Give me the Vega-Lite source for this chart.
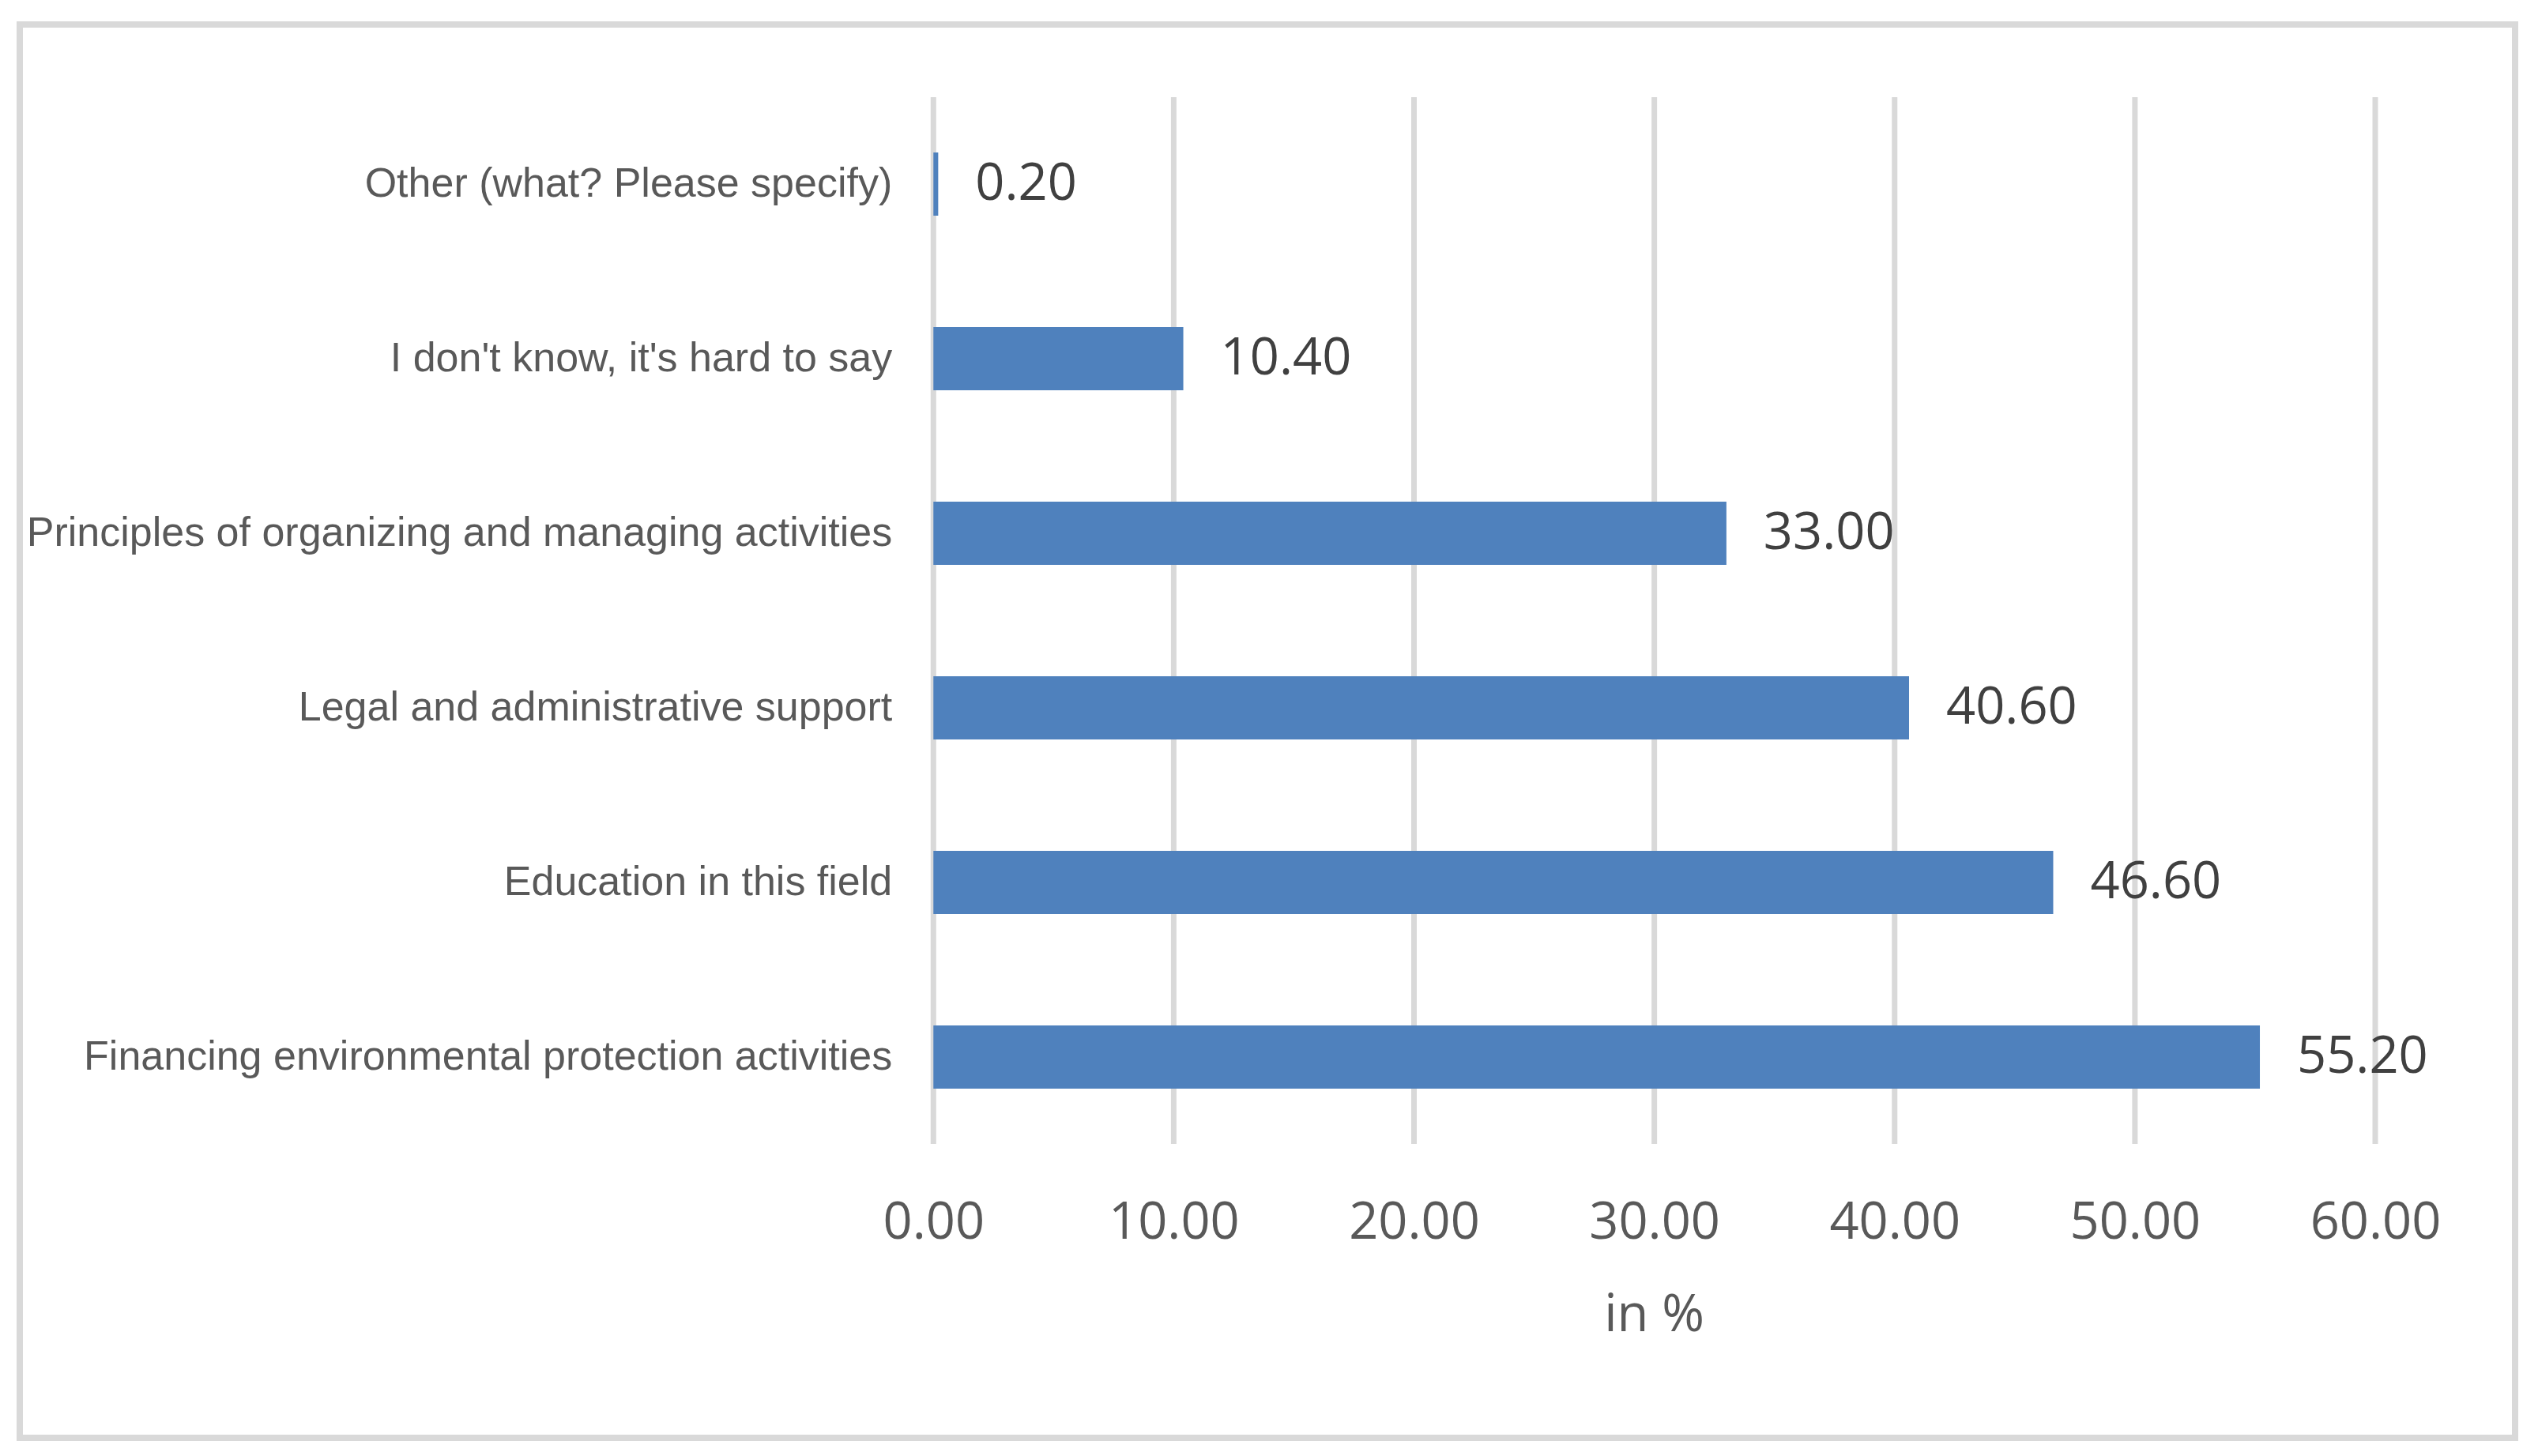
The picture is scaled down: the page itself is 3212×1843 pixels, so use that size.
{
  "$schema": "https://vega.github.io/schema/vega-lite/v6.json",
  "width": 3158,
  "height": 1789,
  "autosize": "none",
  "padding": {"left": 25, "top": 31, "right": 29, "bottom": 23},
  "background": "white",
  "config": {
    "view": {"stroke": "#d9d9d9", "strokeWidth": 8},
    "font": "Open Sans",
    "axisX": {
      "grid": false, "domain": false, "ticks": false, "tickSize": 0,
      "offset": -372, "labelPadding": 68, "labelFont": "Open Sans",
      "labelFontSize": 65, "labelColor": "#595959", "labelBaseline": "top"
    }
  },
  "datasets": {
    "answers": [
      {"answer": "Other (what? Please specify)", "percent": 0.2},
      {"answer": "I don't know, it's hard to say", "percent": 10.4},
      {"answer": "Principles of organizing and managing activities", "percent": 33.0},
      {"answer": "Legal and administrative support", "percent": 40.6},
      {"answer": "Education in this field", "percent": 46.6},
      {"answer": "Financing environmental protection activities", "percent": 55.2}
    ],
    "gridlines": [
      {"tick": 0}, {"tick": 10}, {"tick": 20}, {"tick": 30}, {"tick": 40}, {"tick": 50}, {"tick": 60}
    ]
  },
  "layer": [
    {
      "layer": [
        {
          "data": {"name": "gridlines"},
          "mark": {"type": "rule", "stroke": "#d9d9d9", "strokeWidth": 7},
          "encoding": {
            "x": {"field": "tick", "type": "quantitative",
                  "axis": {"values": [0, 10, 20, 30, 40, 50, 60], "format": ".2f", "title": null},
                  "scale": {"domain": [-38.02, 65.82], "nice": false, "zero": false}},
            "y": {"datum": 1, "type": "quantitative", "axis": null,
                  "scale": {"domain": [-0.2808, 1.0694], "nice": false, "zero": false}},
            "y2": {"datum": 0}
          }
        },
        {
          "data": {"values": [{"label": "in %", "center": 30}]},
          "mark": {"type": "text", "font": "Open Sans", "fontSize": 65, "color": "#595959", "align": "center", "baseline": "alphabetic"},
          "encoding": {
            "x": {"field": "center", "type": "quantitative",
                  "axis": {"values": [0, 10, 20, 30, 40, 50, 60], "format": ".2f", "title": null},
                  "scale": {"domain": [-38.02, 65.82], "nice": false, "zero": false}},
            "y": {"datum": -0.179, "type": "quantitative", "axis": null},
            "text": {"field": "label"}
          }
        }
      ]
    },
    {
      "data": {"name": "answers"},
      "layer": [
        {
          "mark": {"type": "bar", "color": "#4f81bd"},
          "encoding": {
            "x": {"field": "percent", "type": "quantitative",
                  "scale": {"domain": [-38.02, 65.82], "nice": false, "zero": false},
                  "axis": {"values": [0, 10, 20, 30, 40, 50, 60], "format": ".2f", "title": null}},
            "x2": {"datum": 0},
            "y": {"field": "answer", "type": "nominal", "axis": null,
                  "scale": {"domain": [
                    "Other (what? Please specify)",
                    "I don't know, it's hard to say",
                    "Principles of organizing and managing activities",
                    "Legal and administrative support",
                    "Education in this field",
                    "Financing environmental protection activities"
                  ], "range": [91.5, 1417.5], "paddingInner": 0.638, "paddingOuter": 0.319, "align": 0.5, "round": false}}
          }
        },
        {
          "mark": {"type": "text", "font": "Open Sans", "fontSize": 65, "color": "#404040", "align": "left", "baseline": "middle", "dx": 47},
          "encoding": {
            "x": {"field": "percent", "type": "quantitative",
                  "axis": {"values": [0, 10, 20, 30, 40, 50, 60], "format": ".2f", "title": null},
                  "scale": {"domain": [-38.02, 65.82], "nice": false, "zero": false}},
            "y": {"field": "answer", "type": "nominal", "axis": null},
            "text": {"field": "percent", "type": "quantitative", "format": ".2f"}
          }
        },
        {
          "mark": {"type": "text", "font": "Liberation Sans", "fontSize": 52, "color": "#595959", "align": "right", "baseline": "middle", "dx": -52},
          "encoding": {
            "x": {"datum": 0, "type": "quantitative",
                  "axis": {"values": [0, 10, 20, 30, 40, 50, 60], "format": ".2f", "title": null},
                  "scale": {"domain": [-38.02, 65.82], "nice": false, "zero": false}},
            "y": {"field": "answer", "type": "nominal", "axis": null},
            "text": {"field": "answer"}
          }
        }
      ]
    }
  ],
  "resolve": {"scale": {"y": "independent"}}
}
